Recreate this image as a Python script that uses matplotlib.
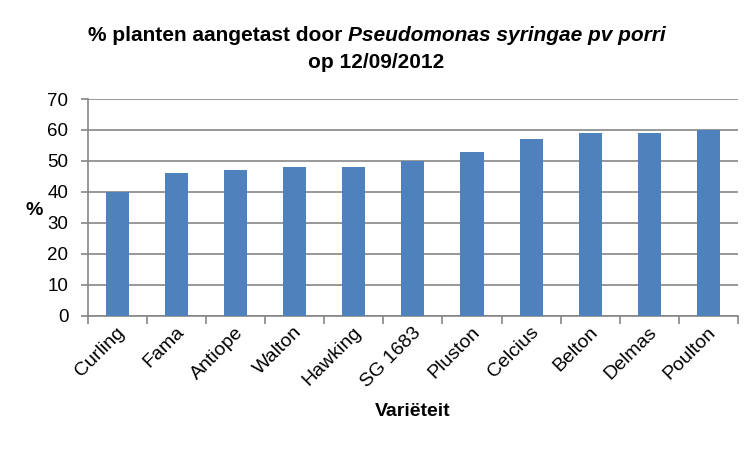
import matplotlib
matplotlib.use("Agg")
import matplotlib.pyplot as plt
import matplotlib.transforms as mtransforms

# data
varieties = ['Curling', 'Fama', 'Antiope', 'Walton', 'Hawking', 'SG 1683',
             'Pluston', 'Celcius', 'Belton', 'Delmas', 'Poulton']
pct_infected = [40, 46, 47, 48, 48, 50, 53, 57, 59, 59, 60]
y_ticks = [0, 10, 20, 30, 40, 50, 60, 70]

plt.rcParams['font.family'] = ['Liberation Sans', 'DejaVu Sans']

bar_color = '#4F81BD'
grid_color = '#868686'

fig = plt.figure(figsize=(7.5, 4.5), dpi=100)
ax = fig.add_axes([0.117, 0.298, 0.867, 0.482])

x = list(range(len(varieties)))
ax.bar(x, pct_infected, width=0.39, color=bar_color, zorder=3)

ax.set_xlim(-0.5, len(varieties) - 0.5)
ax.set_ylim(0, 70)
ax.set_yticks(y_ticks)
ax.set_yticklabels([str(t) for t in y_ticks], fontsize=13.5)
ax.yaxis.grid(True, color=grid_color, linewidth=1.2, zorder=0)

ax.set_xticks(x)
ax.set_xticklabels(varieties, rotation=45, ha='right', va='center',
                   rotation_mode='anchor', fontsize=14)
ax.tick_params(axis='x', length=0, pad=10)
ax.set_xticks([i - 0.5 for i in range(len(varieties) + 1)], minor=True)
ax.tick_params(axis='x', which='minor', length=6, color=grid_color, width=1.2)
ax.tick_params(axis='y', length=5, color=grid_color, width=1.2, pad=9)

# nudge rotated labels a little to the right, as in the reference
shift = mtransforms.ScaledTranslation(5 / 100, 0, fig.dpi_scale_trans)
for lbl in ax.get_xticklabels():
    lbl.set_transform(lbl.get_transform() + shift)

for s in ['top', 'right']:
    ax.spines[s].set_visible(False)
for s in ['left', 'bottom']:
    ax.spines[s].set_color(grid_color)
    ax.spines[s].set_linewidth(1.2)

ax.set_ylabel('%', rotation=0, fontsize=14, fontweight='bold', va='center', ha='center')
ax.yaxis.set_label_coords(-0.082, 0.488)
ax.set_xlabel('Variëteit', fontsize=14, fontweight='bold', va='center')
ax.xaxis.set_label_coords(0.5, -0.442)

# title: bold part + bold italic part, centered together
fig.canvas.draw()
r = fig.canvas.get_renderer()
t1 = fig.text(0, 0, '% planten aangetast door ', fontsize=15, fontweight='bold', va='center')
t2 = fig.text(0, 0, 'Pseudomonas syringae pv porri', fontsize=15, fontweight='bold',
              style='italic', va='center')
w1 = t1.get_window_extent(r).width / fig.bbox.width
w2 = t2.get_window_extent(r).width / fig.bbox.width
x0 = 0.502 - (w1 + w2) / 2
t1.set_position((x0, 0.922))
t2.set_position((x0 + w1, 0.922))
fig.text(0.502, 0.862, 'op 12/09/2012', fontsize=15, fontweight='bold', ha='center', va='center')

fig.savefig('out.png', dpi=100)
